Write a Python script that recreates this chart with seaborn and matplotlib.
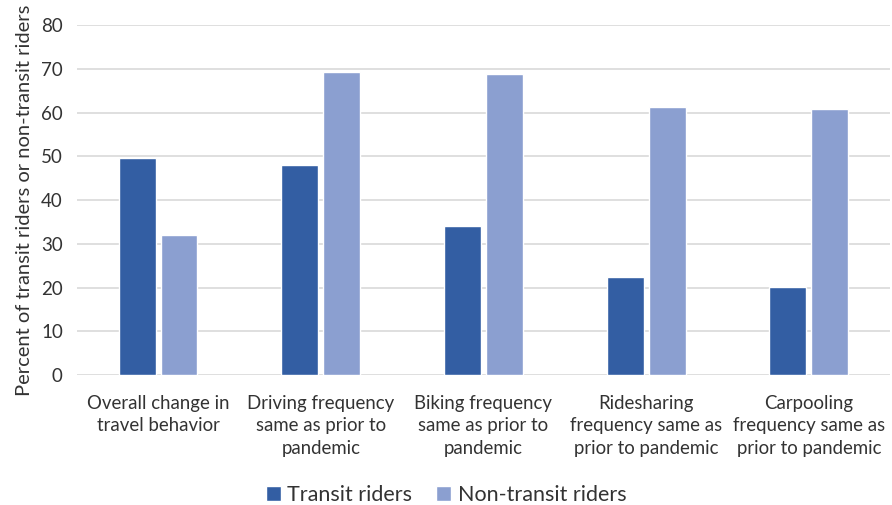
import pandas as pd
import seaborn as sns
import matplotlib.pyplot as plt

# values
categories = [
    "Overall change in\ntravel behavior",
    "Driving frequency\nsame as prior to\npandemic",
    "Biking frequency\nsame as prior to\npandemic",
    "Ridesharing\nfrequency same as\nprior to pandemic",
    "Carpooling\nfrequency same as\nprior to pandemic",
]
transit = [49.6, 48.1, 34.0, 22.5, 20.1]
non_transit = [32.0, 69.4, 68.9, 61.4, 60.8]
series_names = ["Transit riders", "Non-transit riders"]
colors = ["#335ea3", "#8b9fd0"]


def main():
    sns.set_style("white")
    plt.rcParams["font.family"] = ["Lato", "DejaVu Sans"]

    # long format so seaborn handles the grouping
    df = pd.DataFrame({
        "Category": categories * 2,
        "Series": [series_names[0]] * len(categories)
        + [series_names[1]] * len(categories),
        "Value": transit + non_transit,
    })

    fig, ax = plt.subplots(figsize=(8.92, 5.05), dpi=100)
    sns.barplot(data=df, x="Category", y="Value", hue="Series",
                palette=colors, width=0.515, gap=0.12, ax=ax,
                saturation=1, errorbar=None)

    ax.set_ylim(0, 80)
    ax.set_xlim(-0.5, 4.5)
    ax.set_yticks(range(0, 81, 10))
    ax.yaxis.grid(True, color="#d9d9d9", linewidth=1.2)
    ax.set_axisbelow(True)
    for side in ["top", "right", "left", "bottom"]:
        ax.spines[side].set_visible(False)
    ax.tick_params(axis="y", length=0, labelsize=13.5, colors="#333333",
                   pad=10)
    ax.tick_params(axis="x", length=0, labelsize=13.4, colors="#333333",
                   pad=14)
    for lab in ax.get_xticklabels():
        lab.set_linespacing(1.4)
    ax.set_xlabel("")
    ax.set_ylabel("Percent of transit riders or non-transit riders",
                  fontsize=14.5, color="#333333", labelpad=6)

    # legend goes at the bottom of the figure
    handles, labels = ax.get_legend_handles_labels()
    ax.get_legend().remove()
    fig.legend(handles, labels, loc="lower center",
               bbox_to_anchor=(0.5, -0.03), ncol=2, frameon=False,
               fontsize=15.5, handlelength=0.7, handleheight=0.7,
               handletextpad=0.3, columnspacing=1.1, borderpad=0.2,
               labelcolor="#333333")

    fig.subplots_adjust(left=0.086, right=0.998, top=0.95, bottom=0.257)
    plt.savefig("out.png", dpi=100)


if __name__ == "__main__":
    main()
